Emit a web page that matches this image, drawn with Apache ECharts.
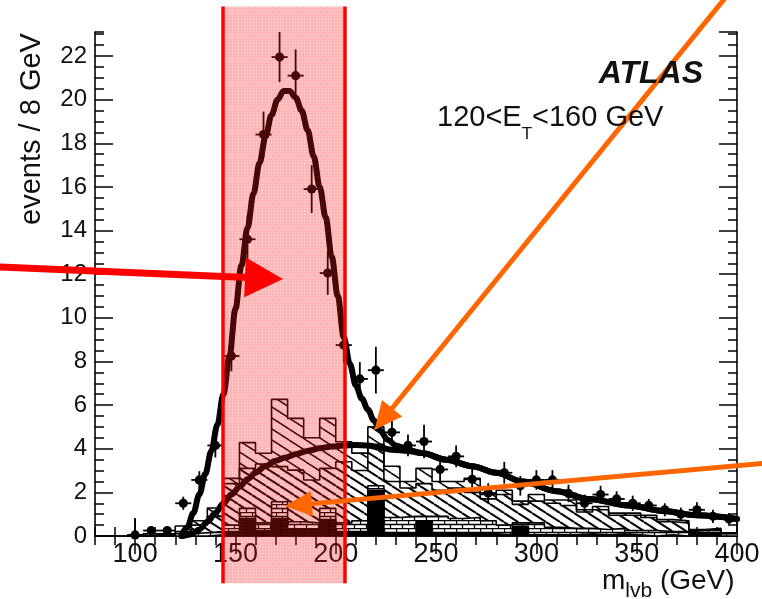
<!DOCTYPE html>
<html><head><meta charset="utf-8">
<script src="https://cdn.jsdelivr.net/npm/echarts@6/dist/echarts.min.js"></script>
<style>html,body{margin:0;padding:0;background:#fff}#c{width:762px;height:599px}</style>
</head><body><div id="c"></div>
<script>
// ---------------- data ----------------
const massBins = [100,108,116,124,132,140,148,156,164,172,180,188,196,204,212,220,228,236,244,252,260,268,276,284,292,300,308,316,324,332,340,348,356,364,372,380,388,396];
const binHalfWidth = 4;
// stacked MC components (events per bin)
const blackComp = [0,0,0,0,0,0.05,0.2,0.8,0.25,0.8,0.3,0.3,0.75,0.2,0.2,2.1,0.15,0.1,0.65,0.1,0.1,0.15,0.1,0.05,0.45,0.05,0.05,0.05,0.1,0.05,0.1,0.05,0,0.05,0,0.1,0.1,0];
const brickComp = [0,0,0,0.1,0.15,0.15,0.3,0.47,0.35,0.77,0.35,0.3,0.52,0.4,0.5,0.2,0.7,0.8,0.25,0.8,0.7,0.7,0.6,0.45,0.15,0.55,0.35,0.3,0.25,0.25,0.25,0.2,0.25,0.15,0.2,0.15,0.15,0.1];
const denseHatchComp = [0,0.05,0.05,0.1,0.35,0.7,1.9,1.83,2.7,1.61,2.37,1.97,1.83,2.8,2.3,1.9,1.65,1.3,1.5,1.2,1.4,1.15,1.0,1.4,0.85,1.0,1.1,1.05,0.75,0.9,0.6,0.7,0.6,0.45,0.4,0,0.05,0.02];
const sparseHatchComp = [0,0.05,0.05,0.26,0.2,0.38,0.24,1.18,0.49,3.08,2.37,1.93,2.29,0.92,0.8,0.8,0.7,0.3,0.7,0.4,0.3,0.65,0.2,0.2,0.15,0.3,0.15,0.25,0.1,0.15,0.1,0.1,0.1,0.1,0.1,0.05,0.05,0.03];
// data points and errors
const dataEvents = [0.05,0.25,0.25,1.5,2.57,4.15,8.25,13.6,18.4,21.95,21.1,15.9,12.05,8.75,7.2,7.6,4.75,4.15,4.33,3.05,3.65,2.6,1.97,2.9,2.3,2.57,2.57,1.95,1.5,1.9,1.7,1.5,1.4,1.2,1.0,1.2,0.9,0.78];
const dataErrors = [0.75,0.15,0.15,0.3,0.4,0.55,0.7,1.1,1.05,1.15,1.2,1.1,1.0,0.8,0.77,1.07,0.6,0.5,0.77,0.6,0.5,0.5,0.45,0.5,0.45,0.45,0.45,0.4,0.4,0.4,0.35,0.35,0.3,0.3,0.3,0.35,0.3,0.25];
// fit curves [m, events]
const fitTotal = [[123,0],[126,0.4],[129,1.05],[132,1.9],[135,2.85],[138,3.9],[141,5.1],[144,6.5],[147,8.2],[150,10.4],[153,12.4],[156,14.1],[159,15.7],[162,17.1],[165,18.3],[168,19.3],[171,20.0],[174,20.4],[177,20.4],[180,20.1],[183,19.5],[186,18.6],[189,17.4],[192,16.0],[195,14.6],[198,12.8],[201,11.0],[204,9.1],[207,7.9],[210,6.9],[213,6.3],[216,5.8],[219,5.3],[222,4.85],[226,4.4],[230,4.15],[236,3.95],[243,3.8],[255,3.5],[268,3.2],[280,2.9],[293,2.5],[310,2.05],[326,1.7],[346,1.4],[363,1.15],[380,0.95],[400,0.78]];
const fitBackground = [[124,0],[128,0.08],[132,0.3],[136,0.65],[140,1.05],[144,1.5],[148,1.9],[152,2.25],[156,2.6],[160,2.9],[165,3.2],[170,3.45],[175,3.6],[180,3.75],[186,3.9],[192,4.02],[198,4.1],[204,4.15],[210,4.17],[216,4.15],[222,4.05],[228,3.95],[236,3.9],[243,3.8],[255,3.5],[268,3.2],[280,2.9],[293,2.5],[310,2.05],[326,1.7],[346,1.4],[363,1.15],[380,0.95],[400,0.78]];
// axes
const xMin = 80, xMax = 400;
const xMajorTicks = [100,150,200,250,300,350,400];
const yMin = 0, yMax = 23.1;
// annotations (data coordinates)
const windowRange = [143.8, 204.6];
const windowYSpan = [-2.16, 24.27];
const redArrow = {from:[32.6, 12.33], to:[173.7, 11.78]};
const orangeArrow1 = {from:[395.3, 24.8], to:[219.3, 4.86]};
const orangeArrow2 = {from:[416.5, 3.36], to:[174.7, 1.37]};

// ---------------- helpers ----------------
function cumulate(list){ const out=[]; let acc=massBins.map(()=>0); list.forEach(arr=>{acc=acc.map((a,i)=>a+arr[i]); out.push(acc.slice());}); return out; }
function stepPoints(cum){ const pts = massBins.map((c,i)=>[c-binHalfWidth, cum[i]]); pts.push([massBins[massBins.length-1]+binHalfWidth, cum[cum.length-1]]); return pts; }
function hatch(w,h,lw){ const c=document.createElement('canvas'); c.width=w; c.height=h; const g=c.getContext('2d'); g.fillStyle='#fff'; g.fillRect(0,0,w,h); g.strokeStyle='#000'; g.lineWidth=lw; for(let n=-1;n<=1;n++){g.beginPath(); g.moveTo(0,n*h); g.lineTo(w,h+n*h); g.stroke();} return c; }
function brick(){ const w=12,h=8; const c=document.createElement('canvas'); c.width=w; c.height=h; const g=c.getContext('2d'); g.fillStyle='#fff'; g.fillRect(0,0,w,h); g.strokeStyle='#000'; g.lineWidth=1.3; g.beginPath(); g.moveTo(0,0.5); g.lineTo(w,0.5); g.moveTo(0,4.5); g.lineTo(w,4.5); g.moveTo(0.5,0.5); g.lineTo(0.5,4.5); g.moveTo(6.5,4.5); g.lineTo(6.5,8.5); g.stroke(); return c; }
function bandPattern(){ const c=document.createElement('canvas'); c.width=3; c.height=3; const g=c.getContext('2d'); g.fillStyle='rgba(255,20,20,0.31)'; g.fillRect(0,0,3,3); g.clearRect(1,1,1,1); g.fillStyle='rgba(255,20,20,0.12)'; g.fillRect(1,1,1,1); return c; }

const [cumK, cumB, cumH, cumT] = cumulate([blackComp, brickComp, denseHatchComp, sparseHatchComp]);
const FONT = '"Liberation Sans", Arial, Helvetica, sans-serif';

function histSeries(cum, fill){
  return {type:'line', step:'end', symbol:'none', data: stepPoints(cum), xAxisIndex:0, yAxisIndex:0,
    lineStyle:{color:'#000', width:1.6}, areaStyle:{color:fill, opacity:1}, z:2, silent:true};
}

const chart = echarts.init(document.getElementById('c'), null, {renderer:'canvas'});
const axisLine = {show:true, lineStyle:{color:'#000', width:1.6}};
const tickStyle = {color:'#000', width:1.5};
const option = {
  animation:false, backgroundColor:'#fff',
  grid:{left:95, top:32, width:642, height:504, outerBoundsMode:'none', containLabel:false},
  xAxis:[
    {type:'value', position:'bottom', min:xMin, max:xMax, interval:10, axisLine,
     axisTick:{show:true, inside:true, length:9, lineStyle:tickStyle},
     axisLabel:{show:true, customValues:xMajorTicks, fontSize:27, fontFamily:FONT, color:'#111', margin:5},
     splitLine:{show:false}},
    {type:'value', position:'bottom', min:xMin, max:xMax, interval:10, axisLine:{show:false},
     axisTick:{show:true, inside:true, length:18, customValues:xMajorTicks, lineStyle:tickStyle},
     axisLabel:{show:false}, splitLine:{show:false}},
    {type:'value', position:'top', min:xMin, max:xMax, interval:10, axisLine,
     axisTick:{show:true, inside:true, length:9, lineStyle:tickStyle}, axisLabel:{show:false}, splitLine:{show:false}},
    {type:'value', position:'top', min:xMin, max:xMax, interval:10, axisLine:{show:false},
     axisTick:{show:true, inside:true, length:18, customValues:xMajorTicks, lineStyle:tickStyle}, axisLabel:{show:false}, splitLine:{show:false}}
  ],
  yAxis:[
    {type:'value', position:'left', min:yMin, max:yMax, interval:2, axisLine,
     axisTick:{show:true, inside:true, length:18, lineStyle:tickStyle},
     axisLabel:{show:true, showMaxLabel:false, fontSize:24, fontFamily:FONT, color:'#111', margin:8},
     splitLine:{show:false}},
    {type:'value', position:'left', min:yMin, max:yMax, interval:0.5, axisLine:{show:false},
     axisTick:{show:true, inside:true, length:9, lineStyle:tickStyle}, axisLabel:{show:false}, splitLine:{show:false}},
    {type:'value', position:'right', min:yMin, max:yMax, interval:2, axisLine,
     axisTick:{show:true, inside:true, length:18, lineStyle:tickStyle}, axisLabel:{show:false}, splitLine:{show:false}},
    {type:'value', position:'right', min:yMin, max:yMax, interval:0.5, axisLine:{show:false},
     axisTick:{show:true, inside:true, length:9, lineStyle:tickStyle}, axisLabel:{show:false}, splitLine:{show:false}}
  ],
  series:[
    histSeries(cumT, {image:hatch(17,11,1.5), repeat:'repeat'}),
    histSeries(cumH, {image:hatch(14,9,2), repeat:'repeat'}),
    histSeries(cumB, {image:brick(), repeat:'repeat'}),
    histSeries(cumK, '#000'),
    {type:'line', data:fitBackground, smooth:0.35, smoothMonotone:'x', symbol:'none', lineStyle:{color:'#000', width:6, cap:'round'}, z:4, silent:true},
    {type:'line', data:fitTotal, smooth:0.35, smoothMonotone:'x', symbol:'none', lineStyle:{color:'#000', width:6, cap:'round'}, z:4, silent:true},
    {type:'custom', z:5, silent:true, encode:{x:0, y:1},
     data: massBins.map((m,i)=>[m, dataEvents[i], dataErrors[i]]),
     renderItem:(params, api)=>{
       const x=api.value(0), y=api.value(1), e=api.value(2);
       const c=api.coord([x,y]), t=api.coord([x,y+e]), b=api.coord([x,Math.max(0,y-e)]);
       const l=api.coord([x-binHalfWidth,y]), r=api.coord([x+binHalfWidth,y]);
       return {type:'group', children:[
         {type:'line', shape:{x1:c[0],y1:t[1],x2:c[0],y2:b[1]}, style:{stroke:'#000', lineWidth:1.8}},
         {type:'line', shape:{x1:l[0],y1:c[1],x2:r[0],y2:c[1]}, style:{stroke:'#000', lineWidth:1.8}},
         {type:'circle', shape:{cx:c[0],cy:c[1],r:4.6}, style:{fill:'#000'}}
       ]};
     }}
  ]
};
chart.setOption(option);

// ---------------- annotations ----------------
const P = v => chart.convertToPixel({xAxisIndex:0, yAxisIndex:0}, v);
const g = [];
const a = P([windowRange[0], windowYSpan[1]]), b = P([windowRange[1], windowYSpan[0]]);
g.push({type:'rect', z:50, silent:true, shape:{x:a[0], y:a[1], width:b[0]-a[0], height:b[1]-a[1]}, style:{fill:{image:bandPattern(), repeat:'repeat'}}});
g.push({type:'line', z:51, silent:true, shape:{x1:a[0],y1:a[1],x2:a[0],y2:b[1]}, style:{stroke:'#ff0000', lineWidth:3.5}});
g.push({type:'line', z:51, silent:true, shape:{x1:b[0],y1:a[1],x2:b[0],y2:b[1]}, style:{stroke:'#ff0000', lineWidth:3.5}});
function arrow(spec, color, lw, headLen, headW){
  const s=P(spec.from), t=P(spec.to);
  const dx=t[0]-s[0], dy=t[1]-s[1], L=Math.hypot(dx,dy), ux=dx/L, uy=dy/L;
  const bx=t[0]-ux*headLen, by=t[1]-uy*headLen, nx=-uy, ny=ux;
  g.push({type:'line', z:60, silent:true, shape:{x1:s[0],y1:s[1],x2:bx+ux*2,y2:by+uy*2}, style:{stroke:color, lineWidth:lw}});
  g.push({type:'polygon', z:60, silent:true, shape:{points:[[t[0],t[1]],[bx+nx*headW/2,by+ny*headW/2],[bx-nx*headW/2,by-ny*headW/2]]}, style:{fill:color}});
}
arrow(redArrow, '#ff0000', 7, 38, 40);
arrow(orangeArrow1, '#ff6600', 5, 28, 26);
arrow(orangeArrow2, '#ff6600', 5, 27, 25);

const mctx = document.createElement('canvas').getContext('2d');
function tw(text, font){ mctx.font = font; return mctx.measureText(text).width; }
function txt(text, x, baseline, size, extra, align){
  const font = (extra||'') + ' ' + size + 'px ' + FONT;
  g.push({type:'text', z:70, silent:true, x:x, y:baseline - 0.35*size,
    style:{text:text, font:font, fill:'#111', align:align||'left', verticalAlign:'middle', textAlign:align||'left', textVerticalAlign:'middle'}});
  return tw(text, font);
}
txt('ATLAS', 703, 85, 32, 'italic bold', 'right');
let x0 = 437;
x0 += txt('120<E', x0, 127.7, 29);
x0 += txt('T', x0, 140, 17);
txt('<160 GeV', x0, 127.7, 29);
let x1 = 602;
x1 += txt('m', x1, 591, 28);
x1 += txt('lvb', x1, 599, 21);
txt(' (GeV)', x1, 591, 28);
g.push({type:'text', z:70, silent:true, x:31.5, y:129, rotation:Math.PI/2,
  style:{text:'events / 8 GeV', font:'29px '+FONT, fill:'#111', align:'center', verticalAlign:'middle', textAlign:'center', textVerticalAlign:'middle'}});
chart.setOption({graphic:{elements:g}});
</script></body></html>
